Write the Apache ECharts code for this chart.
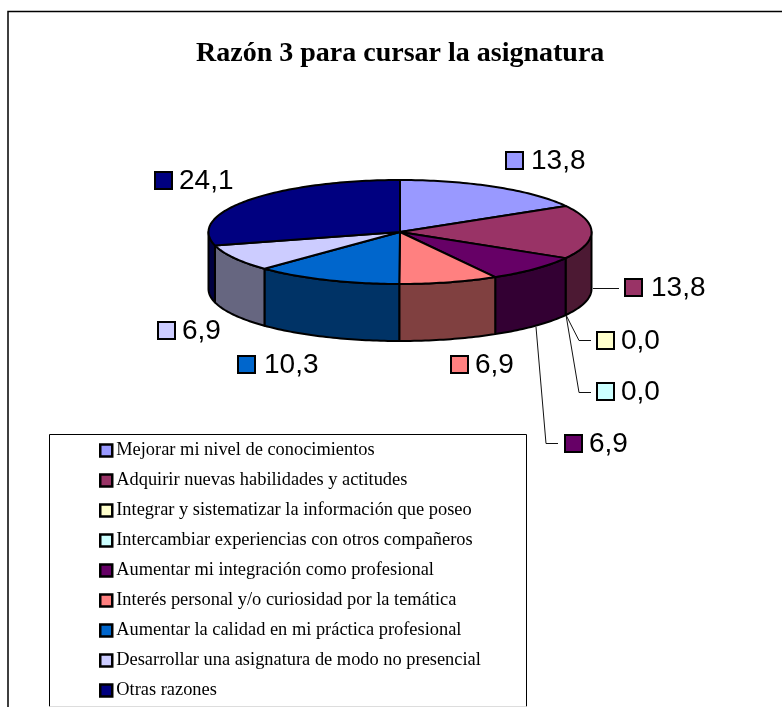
<!DOCTYPE html>
<html>
<head>
<meta charset="utf-8">
<style>html,body{margin:0;padding:0;background:#fff}#c{width:782px;height:707px}</style>
<script src="https://cdn.jsdelivr.net/npm/echarts@6/dist/echarts.min.js"></script>
</head>
<body>
<div id="c"></div>
<script>
const titleText = 'Razón 3 para cursar la asignatura';
const categories = [
  'Mejorar mi nivel de conocimientos',
  'Adquirir nuevas habilidades y actitudes',
  'Integrar y sistematizar la información que poseo',
  'Intercambiar experiencias con otros compañeros',
  'Aumentar mi integración como profesional',
  'Interés personal y/o curiosidad por la temática',
  'Aumentar la calidad en mi práctica profesional',
  'Desarrollar una asignatura de modo no presencial',
  'Otras razones'
];
const values = [13.8, 13.8, 0.0, 0.0, 6.9, 6.9, 10.3, 6.9, 24.1];
const colors = ['#9999FF', '#993366', '#FFFFCC', '#CCFFFF', '#660066', '#FF8080', '#0066CC', '#CCCCFF', '#000080'];
const wallColors = ['#4C4C80', '#4C1933', '#808066', '#668080', '#330033', '#804040', '#003366', '#666680', '#000040'];

// layout of the drawing (not data)
const pie = { cx: 400, cy: 232, rx: 191.5, ry: 52, depth: 57 };
const keyBoxes = [[506,152],[625,279],[597,332],[597,383],[565,435],[451,356],[238,356],[158,322],[155,172]];
const labelShift = [1, 2, 0, 0, 0, 0, 2, 0, 0];
const keySize = 17;
const leaders = [
  null,
  [[593,288.5],[619,288.5]],
  [[566,315],[579,340.5],[591,340.5]],
  [[566,315],[579,392.5],[591,392.5]],
  [[536,327],[546,443.5],[558,443.5]],
  null, null, null, null
];

const total = values.reduce((a, b) => a + b, 0);
const starts = [];
values.reduce((acc, v, i) => { starts[i] = acc; return acc + v; }, 0);
const ang = v => v / total * 2 * Math.PI;
const rim = (t, dy) => [pie.cx + pie.rx * Math.sin(t), pie.cy + dy - pie.ry * Math.cos(t)];
function arc(a, b, dy) {
  const n = Math.max(2, Math.ceil((b - a) / 0.02));
  const pts = [];
  for (let k = 0; k <= n; k++) pts.push(rim(a + (b - a) * k / n, dy));
  return pts;
}
const outline = { stroke: '#000', lineWidth: 2, lineJoin: 'round' };

function renderSlice(i) {
  return function (params, api) {
    const v = api.value(0);
    const children = [];
    if (v > 0) {
      const a = ang(starts[i]), b = ang(starts[i] + v);
      const wa = Math.max(a, Math.PI / 2), wb = Math.min(b, Math.PI * 1.5);
      if (wb > wa) {
        const wall = arc(wa, wb, 0).concat(arc(wa, wb, pie.depth).reverse());
        children.push({ type: 'polygon', shape: { points: wall }, style: Object.assign({ fill: wallColors[i] }, outline) });
      }
      const top = [[pie.cx, pie.cy]].concat(arc(a, b, 0));
      children.push({ type: 'polygon', shape: { points: top }, style: Object.assign({ fill: colors[i] }, outline) });
    }
    if (leaders[i]) {
      children.push({ type: 'polyline', shape: { points: leaders[i] }, style: { stroke: '#111', lineWidth: 1, fill: null } });
    }
    const [kx, ky] = keyBoxes[i];
    children.push({ type: 'rect', shape: { x: kx, y: ky, width: keySize, height: keySize }, style: { fill: colors[i], stroke: '#000', lineWidth: 2 } });
    children.push({ type: 'text', style: {
      text: v.toFixed(1).replace('.', ','), x: kx + keySize + 7 + labelShift[i], y: ky + keySize / 2 + 0.5,
      fill: '#000', font: '28px "Liberation Sans", Arial, sans-serif', textAlign: 'left', textVerticalAlign: 'middle'
    } });
    return { type: 'group', children };
  };
}

const chart = echarts.init(document.getElementById('c'), null, { renderer: 'canvas' });
chart.setOption({
  animation: false,
  backgroundColor: '#fff',
  title: {
    text: titleText, left: 196, top: 40, padding: 0,
    textStyle: { fontFamily: '"Liberation Serif", "Times New Roman", serif', fontSize: 28, fontWeight: 'bold', color: '#000' }
  },
  legend: {
    show: true, orient: 'vertical', left: 99, top: 441.5, padding: 0,
    itemWidth: 12, itemHeight: 12, itemGap: 12, icon: 'rect',
    data: categories, selectedMode: false,
    itemStyle: { borderColor: '#000', borderWidth: 2.5 },
    textStyle: { fontFamily: '"Liberation Serif", "Times New Roman", serif', fontSize: 18.4, color: '#000', padding: [0, 0, 0, -1], height: 18, lineHeight: 18 }
  },
  graphic: [
    { type: 'polyline', z: -10, silent: true, shape: { points: [[8, 707], [8, 11.5], [782, 11.5]] }, style: { stroke: '#000', lineWidth: 1.5, fill: null } },
    { type: 'polyline', z: -9, silent: true, shape: { points: [[49.5, 706.5], [49.5, 434.5], [526.5, 434.5], [526.5, 706.5]] }, style: { stroke: '#000', lineWidth: 1, fill: null } },
    { type: 'line', z: -9, silent: true, shape: { x1: 49.5, y1: 706.5, x2: 526.5, y2: 706.5 }, style: { stroke: '#ddd', lineWidth: 1 } }
  ],
  series: categories.map((name, i) => ({
    type: 'custom', name, coordinateSystem: 'none', silent: true,
    itemStyle: { color: colors[i] },
    renderItem: renderSlice(i),
    data: [[values[i]]]
  }))
});
</script>
</body>
</html>
